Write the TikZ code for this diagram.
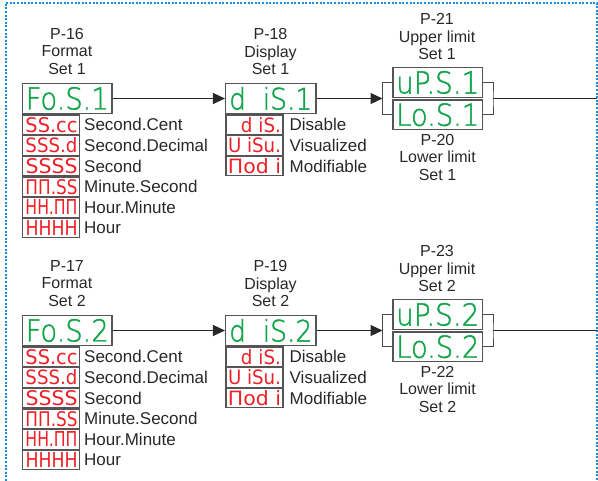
\documentclass[tikz,border=0pt]{standalone}
\usepackage{fontspec}
\setmainfont{Liberation Sans}
\newfontfamily\seg{DejaVuSans-ExtraLight.ttf}[FakeBold=1.6]
\newfontfamily\segr{DejaVu Sans}
\usepackage{graphicx}
\usetikzlibrary{arrows.meta}
\definecolor{segG}{RGB}{20,165,75}
\definecolor{segR}{RGB}{238,32,40}
\definecolor{frameB}{RGB}{25,140,220}
\definecolor{txt}{RGB}{40,40,40}
\definecolor{boxD}{RGB}{85,85,85}
\tikzset{
  disp/.style={draw=boxD, line width=1.1pt, inner sep=0pt, fill=white},
  gbox/.style={disp, minimum width=89.5pt, minimum height=29.5pt},
  rbox/.style={disp, minimum width=57pt, minimum height=19.5pt},
  lbl/.style={anchor=west, inner sep=0pt, text=txt, font=\fontsize{17}{20}\selectfont},
  ttl/.style={align=center, inner sep=0pt, text=txt, font=\fontsize{16}{17.7}\selectfont},
  conn/.style={draw=txt, line width=1.2pt},
  arr/.style={conn, -{Triangle[length=12pt,width=11pt]}},
  brk/.style={draw=txt!85, line width=1pt},
  frame/.style={draw=frameB, line width=2pt, dash pattern=on 2pt off 1.6pt},
}
\newcommand\gtext[1]{\textcolor{segG}{\resizebox{83pt}{22.5pt}{\seg #1}}}
\newcommand\rtext[2]{\textcolor{segR}{\makebox[53pt][r]{\resizebox{#1}{15pt}{\segr #2}}}}
\newcommand\frow[4]{%
  \node[rbox] (#1) at (51,#2) {\rtext{52pt}{#3}};
  \node[lbl] (#1l) at (84,#2) {#4};}
\newcommand\drow[5]{%
  \node[rbox] (#1) at (254.5,#2) {\rtext{#5}{#3}};
  \node[lbl] (#1l) at (289.5,#2) {#4};}
% #1 suffix, #2 set, #3 P format, #4 P display, #5 P upper, #6 P lower
\newcommand\grp[6]{%
  \node[ttl] (tf#1) at (67,51.3) {P-#3\\Format\\Set #2};
  \node[gbox] (fo#1) at (67.25,98.5) {\gtext{Fo.S.#2}};
  \frow{fa#1}{124.8}{SS.cc}{Second.Cent}
  \frow{fb#1}{145.5}{SSS.d}{Second.Decimal}
  \frow{fc#1}{166.1}{SSSS}{Second}
  \frow{fd#1}{186.8}{ΠΠ.SS}{Minute.Second}
  \frow{fe#1}{207.5}{HH.ΠΠ}{Hour.Minute}
  \frow{ff#1}{228.1}{HHHH}{Hour}
  \node[ttl] (td#1) at (270.5,51.5) {P-#4\\Display\\Set #2};
  \node[gbox, minimum width=90.5pt] (ds#1) at (270.75,98.5) {\gtext{d\ \ iS.#2}};
  \drow{da#1}{124.8}{d iS.}{Disable}{40pt}
  \drow{db#1}{145.5}{U iSu.}{Visualized}{53pt}
  \drow{dc#1}{166.1}{Πod i}{Modifiable}{53pt}
  \node[ttl] (tu#1) at (437,36.5) {P-#5\\Upper limit\\Set #2};
  \node[gbox, minimum height=30pt] (up#1) at (437.75,82.5) {\gtext{uP.S.#2}};
  \node[gbox] (lo#1) at (437.75,114.75) {\gtext{Lo.S.#2}};
  \node[ttl] (tl#1) at (437.5,157.3) {P-#6\\Lower limit\\Set #2};
  \coordinate (bl#1) at (382.5,98.5);
  \coordinate (br#1) at (493,98.5);
  \coordinate (out#1) at (597,98.5);
  \draw[arr] (fo#1.east) -- (ds#1.west);
  \draw[arr] (ds#1.east) -- (bl#1);
  \draw[brk] (up#1.west) -| (bl#1) |- (lo#1.west);
  \draw[brk] (up#1.east) -| (br#1) |- (lo#1.east);
  \draw[conn] (br#1) -- (out#1);
}
\begin{document}
\begin{tikzpicture}[x=1pt,y=-1pt]
  \useasboundingbox (0,0) rectangle (598,481);
  \coordinate (fbl) at (5.5,481);
  \coordinate (ftl) at (5.5,3);
  \coordinate (ftr) at (597,3);
  \coordinate (fbr) at (597,481);
  \draw[frame] (fbl) -- (ftl) -- (ftr) -- (fbr);
  \grp{a}{1}{16}{18}{21}{20}
  \begin{scope}[yshift=-232pt]
    \grp{b}{2}{17}{19}{23}{22}
  \end{scope}
\end{tikzpicture}
\end{document}
